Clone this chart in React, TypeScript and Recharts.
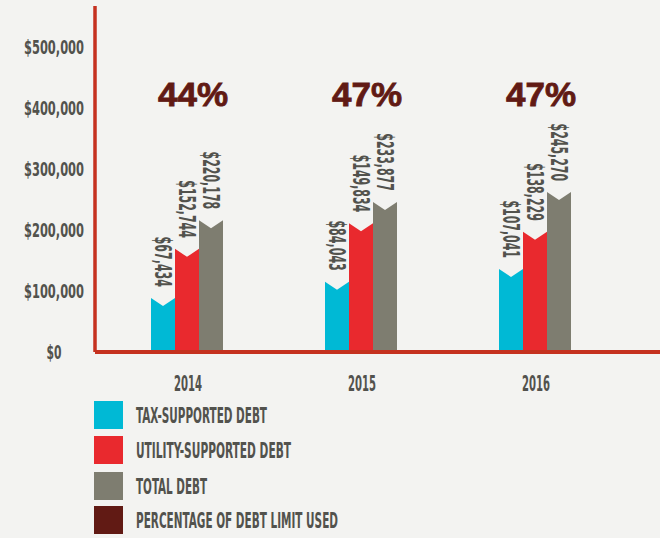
import React from 'react';
import { BarChart, Bar, XAxis, YAxis, LabelList } from 'recharts';

const years = ['2014', '2015', '2016'];
// bar heights as drawn in the picture (the printed labels differ from the drawn heights)
const taxHeights = [88500, 115000, 136000];
const utilityHeights = [169000, 211000, 197000];
const totalHeights = [216000, 246000, 262000];
const taxLabels = ['$67,434', '$84,043', '$107,041'];
const utilityLabels = ['$152,744', '$149,834', '$138,229'];
const totalLabels = ['$220,178', '$233,877', '$245,270'];
const pctLabels = ['44%', '47%', '47%'];
const yTicks = [0, 100000, 200000, 300000, 400000, 500000];
const yTickLabels = ['$0', '$100,000', '$200,000', '$300,000', '$400,000', '$500,000'];
const legendNames = ['TAX-SUPPORTED DEBT', 'UTILITY-SUPPORTED DEBT', 'TOTAL DEBT', 'PERCENTAGE OF DEBT LIMIT USED'];

const COLORS = {
  tax: '#00b9d5',
  utility: '#e9292e',
  total: '#7e7d70',
  pct: '#611a14',
  axis: '#c5311f',
  text: '#52524d',
  bg: '#f3f3f1',
};
const legendColors = [COLORS.tax, COLORS.utility, COLORS.total, COLORS.pct];
const legendWidths = [131, 155, 71, 202];

const NARROW = "'Liberation Sans Narrow', 'DejaVu Sans Condensed', 'Roboto Condensed', 'Liberation Sans', sans-serif";
const CHART_H = 410;

const data = years.map((y, i) => ({
  year: y,
  tax: taxHeights[i],
  utility: utilityHeights[i],
  total: totalHeights[i],
  taxLabel: taxLabels[i],
  utilityLabel: utilityLabels[i],
  totalLabel: totalLabels[i],
  pct: pctLabels[i],
}));

const NotchBar = (props: any) => {
  const { x, y, width, height, fill } = props;
  if (!height || height <= 0) return null;
  const notch = 8;
  const b = y + height;
  const pts = `${x},${y} ${x + width / 2},${y + notch} ${x + width},${y} ${x + width},${b} ${x},${b}`;
  return <polygon points={pts} fill={fill} />;
};

const ValueLabel = (props: any) => {
  const vb = props.viewBox || {};
  const x = props.x ?? vb.x;
  const y = props.y ?? vb.y;
  const width = props.width ?? vb.width;
  const value = String(props.value ?? '');
  const cx = x + width / 2;
  const endY = y - 11;
  return (
    <text
      x={cx}
      y={endY}
      transform={`rotate(90 ${cx} ${endY})`}
      textAnchor="end"
      dy="0.35em"
      fontFamily={NARROW}
      fontWeight={700}
      fontSize={23}
      fill={COLORS.text}
      textLength={value.length * 7.2}
      lengthAdjust="spacingAndGlyphs"
    >
      {value}
    </text>
  );
};

const PctLabel = (props: any) => {
  const vb = props.viewBox || {};
  const x = props.x ?? vb.x;
  const width = props.width ?? vb.width;
  const value = String(props.value ?? '');
  return (
    <text
      x={x + width / 2 + 6}
      y={106}
      textAnchor="middle"
      fontFamily="'Liberation Sans', Arial, sans-serif"
      fontWeight={700}
      fontSize={33}
      fill={COLORS.pct}
      stroke={COLORS.pct}
      strokeWidth={0.8}
      textLength={70}
      lengthAdjust="spacingAndGlyphs"
    >
      {value}
    </text>
  );
};

const YTick = (props: any) => {
  const { y, payload } = props;
  const idx = yTicks.indexOf(payload.value);
  const label = idx >= 0 ? yTickLabels[idx] : '';
  return (
    <text
      x={54}
      y={y}
      dy="0.36em"
      textAnchor="middle"
      fontFamily={NARROW}
      fontWeight={700}
      fontSize={20}
      fill={COLORS.text}
      textLength={label.length * 7.5}
      lengthAdjust="spacingAndGlyphs"
    >
      {label}
    </text>
  );
};

const XTick = (props: any) => {
  const { x, payload } = props;
  return (
    <text
      x={x + 1}
      y={391}
      textAnchor="middle"
      fontFamily={NARROW}
      fontWeight={700}
      fontSize={22}
      fill={COLORS.text}
      textLength={28}
      lengthAdjust="spacingAndGlyphs"
    >
      {payload.value}
    </text>
  );
};

const rowTops = [401, 436, 472, 506];

export default function App() {
  return (
    <div style={{ width: 660, height: 538, background: COLORS.bg, overflow: 'hidden', position: 'relative' }}>
      <style>{`body{margin:0;background:${COLORS.bg};}`}</style>
      <BarChart
        width={660}
        height={CHART_H}
        data={data}
        margin={{ top: 6, right: 0, bottom: 0, left: 0 }}
        barGap={0}
        barSize={24}
      >
        <XAxis
          dataKey="year"
          height={CHART_H - 352}
          padding={{ left: 5, right: 38 }}
          axisLine={{ stroke: COLORS.axis, strokeWidth: 4 }}
          tickLine={false}
          tick={<XTick />}
          interval={0}
        />
        <YAxis
          width={95}
          domain={[0, 567000]}
          ticks={yTicks}
          axisLine={{ stroke: COLORS.axis, strokeWidth: 3.5 }}
          tickLine={false}
          tick={<YTick />}
          allowDataOverflow
        />
        <Bar dataKey="tax" fill={COLORS.tax} shape={<NotchBar />} isAnimationActive={false}>
          <LabelList dataKey="taxLabel" content={<ValueLabel />} />
        </Bar>
        <Bar dataKey="utility" fill={COLORS.utility} shape={<NotchBar />} isAnimationActive={false}>
          <LabelList dataKey="utilityLabel" content={<ValueLabel />} />
          <LabelList dataKey="pct" content={<PctLabel />} />
        </Bar>
        <Bar dataKey="total" fill={COLORS.total} shape={<NotchBar />} isAnimationActive={false}>
          <LabelList dataKey="totalLabel" content={<ValueLabel />} />
        </Bar>
      </BarChart>
      <svg
        width={660}
        height={148}
        viewBox="0 390 660 148"
        style={{ display: 'block', position: 'absolute', left: 0, top: 390 }}
      >
        {legendNames.map((name, i) => (
          <g key={name}>
            <rect x={94} y={rowTops[i]} width={29} height={28} fill={legendColors[i]} />
            <text
              x={136}
              y={rowTops[i] + 14}
              dy="0.36em"
              fontFamily={NARROW}
              fontWeight={700}
              fontSize={21}
              fill={COLORS.text}
              textLength={legendWidths[i]}
              lengthAdjust="spacingAndGlyphs"
            >
              {name}
            </text>
          </g>
        ))}
      </svg>
    </div>
  );
}
